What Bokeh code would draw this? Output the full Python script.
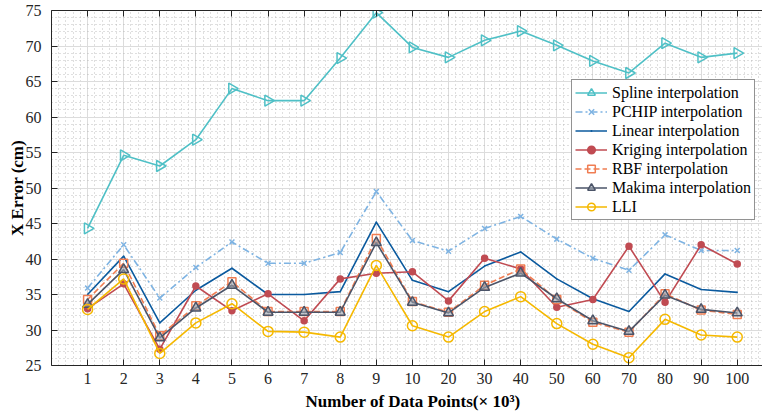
import numpy as np
from bokeh.plotting import figure
from bokeh.models import (FixedTicker, SingleIntervalTicker, LinearAxis, Range1d,
                          Legend, LegendItem, Title)
from bokeh.embed import file_html
from bokeh.resources import INLINE

cats = ["1", "2", "3", "4", "5", "6", "7", "8", "9", "10",
        "20", "30", "40", "50", "60", "70", "80", "90", "100"]

spline = [44.3, 54.6, 53.1, 56.8, 64.0, 62.3, 62.3, 68.3, 74.7, 69.8,
          68.4, 70.8, 72.1, 70.1, 67.9, 66.2, 70.4, 68.4, 69.0]
pchip = [35.9, 42.0, 34.5, 38.8, 42.4, 39.4, 39.4, 40.9, 49.5, 42.6,
         41.1, 44.3, 46.0, 42.8, 40.1, 38.4, 43.4, 41.2, 41.2]
linear = [35.0, 40.4, 31.0, 35.6, 38.7, 35.0, 35.0, 35.4, 45.2, 37.0,
          35.4, 39.0, 41.0, 37.2, 34.4, 32.6, 37.9, 35.7, 35.3]
kriging = [33.0, 36.5, 27.3, 36.2, 32.7, 35.1, 31.3, 37.2, 38.0, 38.2,
           34.1, 40.1, 38.6, 33.2, 34.3, 41.8, 33.9, 42.0, 39.3]
rbf = [34.3, 39.4, 29.2, 33.4, 36.8, 32.6, 32.6, 32.6, 42.9, 34.0,
       32.5, 36.3, 38.6, 34.3, 31.1, 29.7, 35.1, 32.8, 32.2]
makima = [33.6, 38.5, 28.9, 33.1, 36.3, 32.5, 32.5, 32.5, 42.3, 33.9,
          32.4, 36.0, 38.0, 34.4, 31.3, 29.8, 34.9, 32.9, 32.4]
lli = [32.9, 37.2, 26.7, 31.0, 33.7, 29.8, 29.7, 29.0, 39.1, 30.6,
       29.0, 32.6, 34.7, 30.9, 28.0, 26.1, 31.5, 29.3, 29.0]

names = ["Spline interpolation", "PCHIP interpolation", "Linear interpolation",
         "Kriging interpolation", "RBF interpolation", "Makima interpolation", "LLI"]

x_title = "Number of Data Points(× 10³)"
y_title = "X Error (cm)"

FONT = "Liberation Serif"
TXT = "#262626"

xs = list(range(1, len(cats) + 1))

p = figure(frame_width=711, frame_height=355, output_backend="svg", toolbar_location=None,
           x_range=Range1d(0, 19.7), y_range=Range1d(25, 75),
           min_border_left=51, min_border_right=0, min_border_top=10, min_border_bottom=40)
p.outline_line_color = None
p.background_fill_color = "white"

xt = FixedTicker(ticks=xs, minor_ticks=[round(i * 0.2, 2) for i in range(0, 100)])
yt = SingleIntervalTicker(interval=5, num_minor_ticks=5)

p.xaxis.ticker = xt
p.yaxis.ticker = yt
p.xaxis.major_label_overrides = {i: c for i, c in zip(xs, cats)}

for ax in [p.xaxis[0], p.yaxis[0]]:
    ax.major_tick_in = 6
    ax.major_tick_out = 0
    ax.minor_tick_line_color = None
    ax.axis_line_color = TXT
    ax.major_tick_line_color = TXT
    ax.major_label_text_font = FONT
    ax.major_label_text_font_size = "16px"
    ax.major_label_text_color = TXT
    ax.axis_label_text_font = FONT
    ax.axis_label_text_font_size = "17px"
    ax.axis_label_text_font_style = "bold"
    ax.axis_label_text_color = "black"

p.xaxis.major_label_standoff = 3
p.yaxis.major_label_standoff = 6
p.yaxis.axis_label = y_title
p.yaxis.axis_label_standoff = -4

top = LinearAxis(ticker=xt, major_tick_in=6, major_tick_out=0,
                 minor_tick_line_color=None, major_label_text_font_size="0px",
                 major_label_standoff=0, axis_line_color=TXT, major_tick_line_color=TXT)
top.major_label_overrides = {i: "" for i in xs}
p.add_layout(top, "above")

p.add_layout(Title(text=x_title, align="left", offset=254,
                   text_font=FONT, text_font_size="17px", text_font_style="bold",
                   text_color="black", standoff=7), "below")

p.xgrid.ticker = xt
p.ygrid.ticker = yt
for g in [p.xgrid[0], p.ygrid[0]]:
    g.grid_line_color = "#dcdcdc"
    g.grid_line_width = 1
    g.minor_grid_line_color = "#b0b0b0"
    g.minor_grid_line_dash = "1 3"
    g.minor_grid_line_width = 1
    g.minor_grid_line_alpha = 0.8

series = [spline, pchip, linear, kriging, rbf, makima, lli]
colors = ["#4fc0c6", "#7eb3e2", "#0b5a9e", "#c04b52", "#f07d52", "#4b5468", "#f5b800"]
dashes = ["solid", "7 3 2 3", "solid", "solid", "6 3", "solid", "solid"]
markers = ["triangle", "x", "dot", "circle", "square", "triangle", "circle"]
msizes = [11, 7, 6, 6, 8, 10, 10]
fills = [None, None, "#0b5a9e", "#c04b52", None, "#9aa1ae", None]
angles = [-np.pi / 2, 0, 0, 0, 0, 0, 0]

items = []
for s, c, d, m, ms, f, a, n in zip(series, colors, dashes, markers, msizes, fills, angles, names):
    lr = p.line(xs, s, line_color=c, line_width=1.6, line_dash=d)
    sr = p.scatter(xs, s, marker=m, size=ms, line_color=c, line_width=1.5,
                   fill_color=f, fill_alpha=(0.6 if m == "triangle" else 1) if f else 0,
                   angle=a, angle_units="rad")
    items.append(LegendItem(label=n, renderers=[lr, sr]))

legend = Legend(items=items, location=(520, 145), orientation="vertical",
                label_text_font=FONT, label_text_font_size="16px", label_text_color="black",
                glyph_width=32, glyph_height=19, label_height=19, label_standoff=5,
                spacing=0, padding=3, margin=0,
                border_line_color=TXT, border_line_width=1,
                background_fill_color="white", background_fill_alpha=1)
p.add_layout(legend, "center")

open("out.html", "w").write(file_html(p, INLINE))
